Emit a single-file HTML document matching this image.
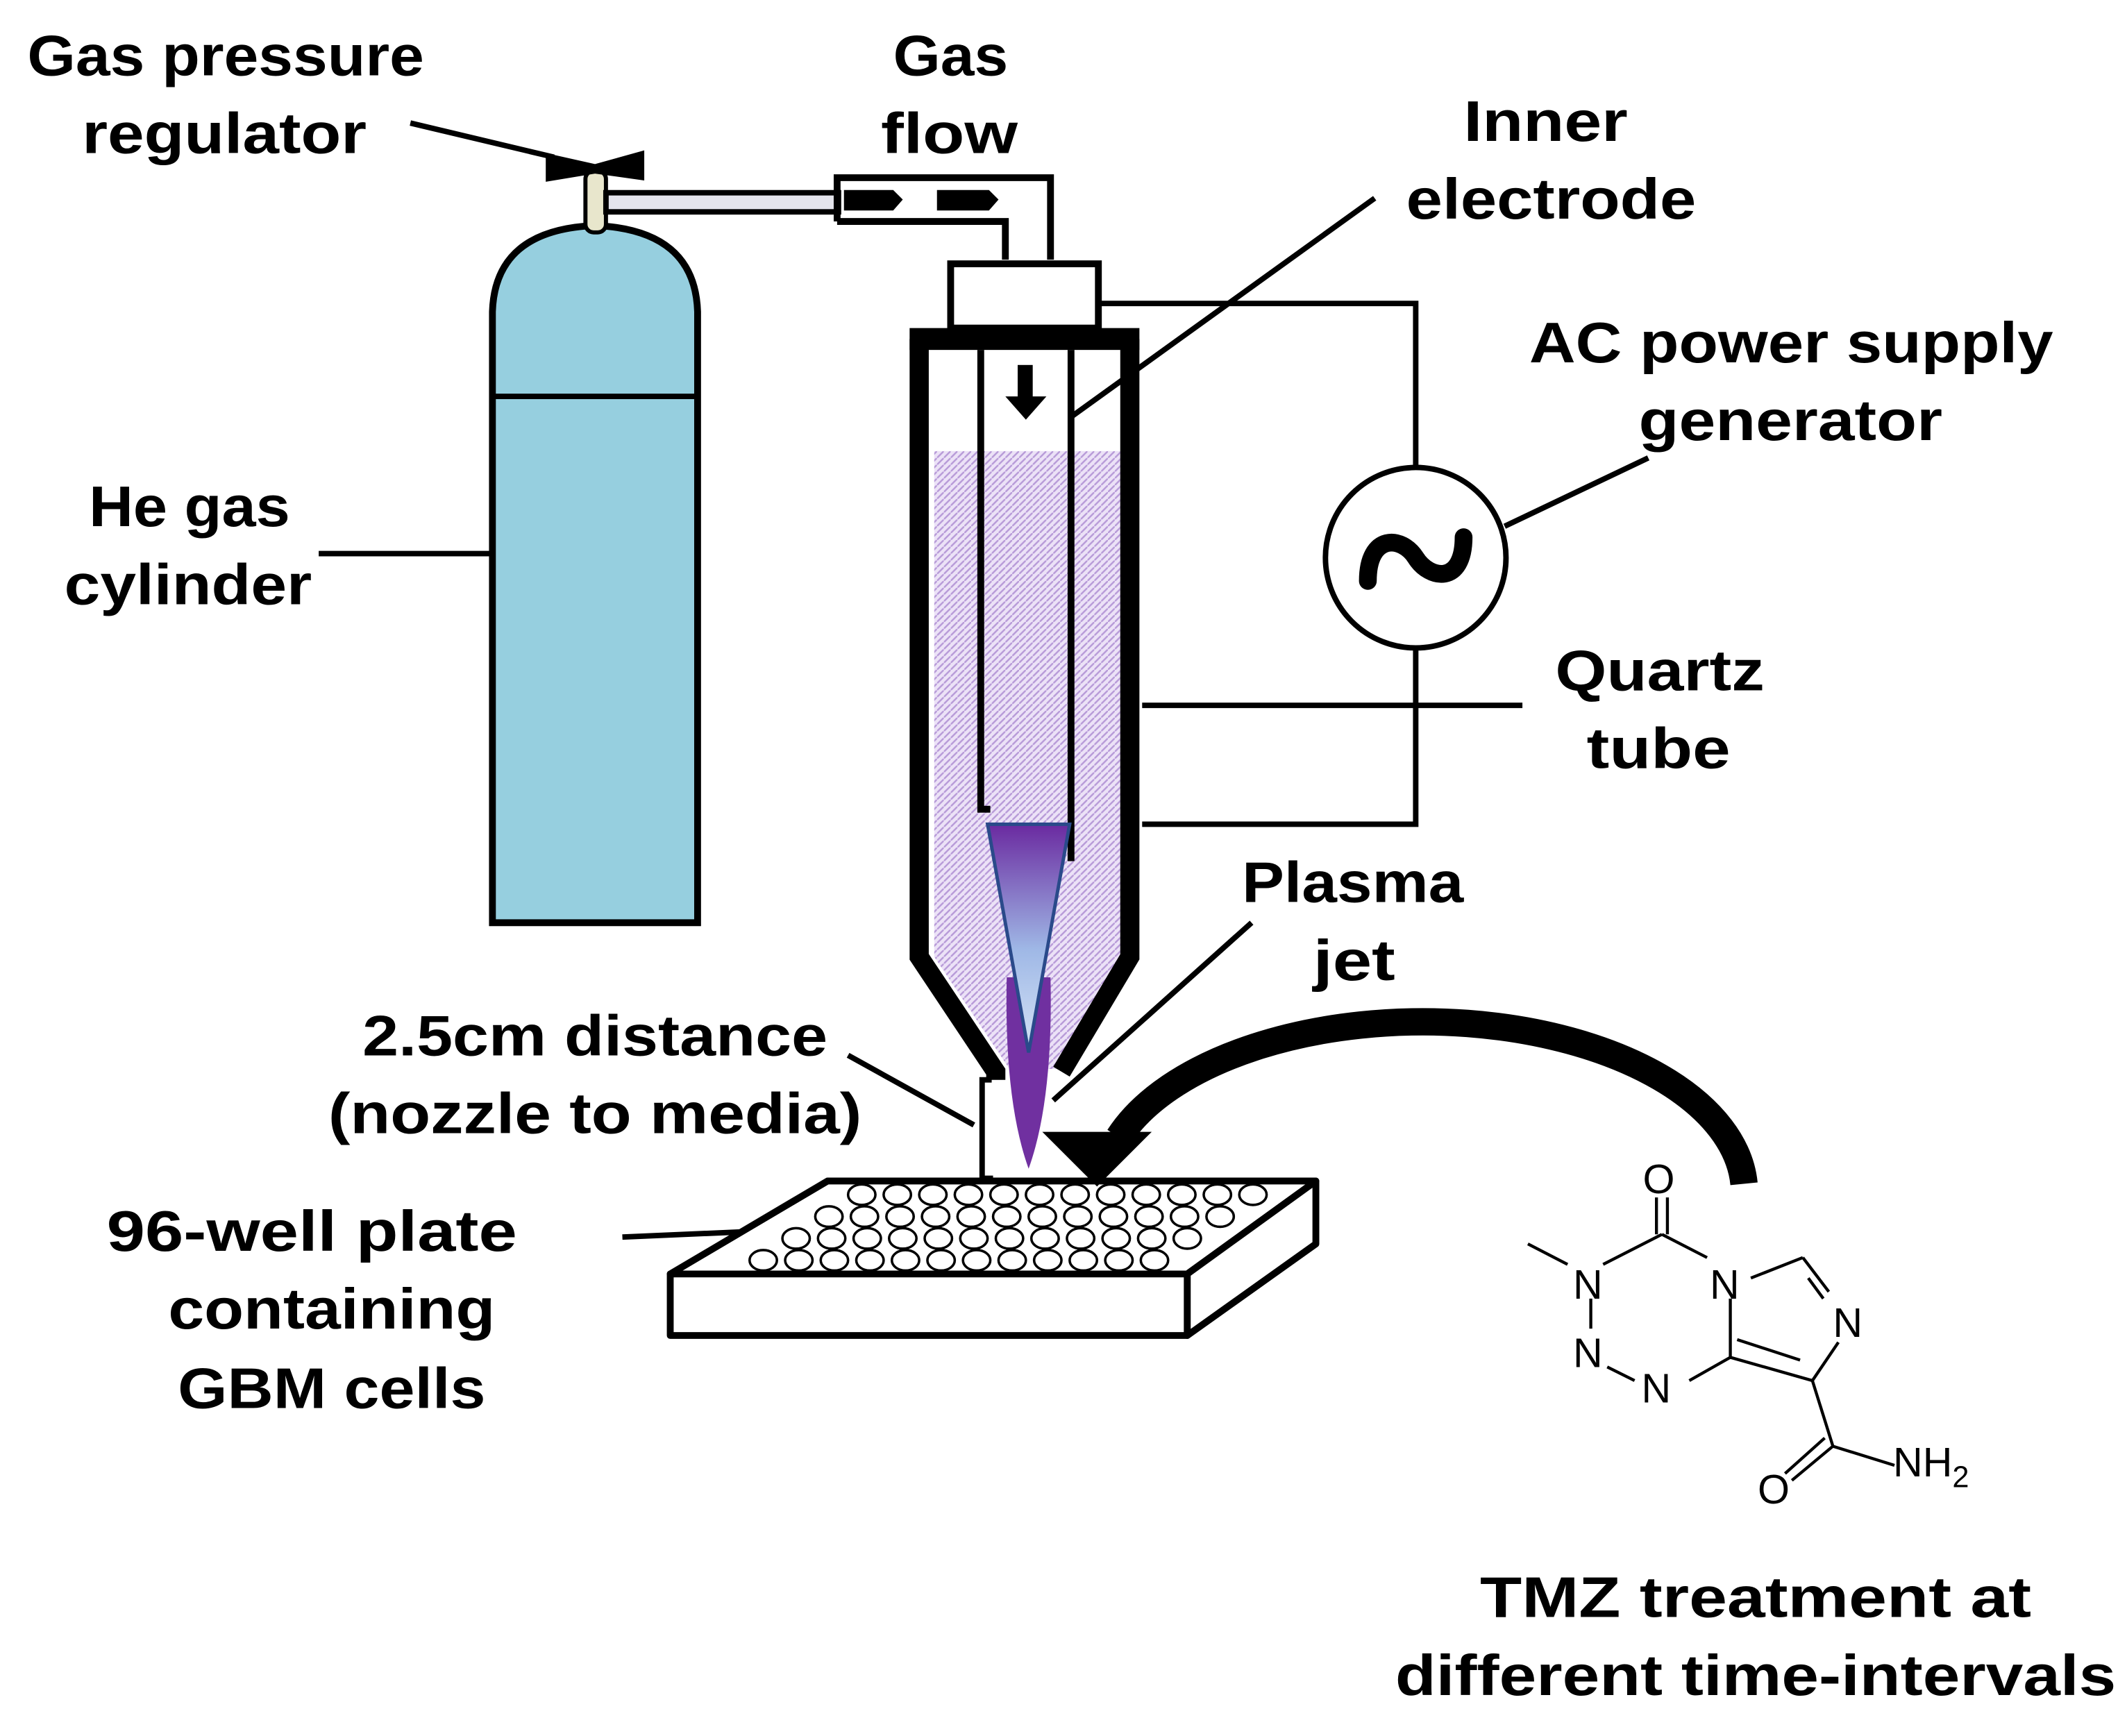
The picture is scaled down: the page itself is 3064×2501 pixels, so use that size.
<!DOCTYPE html>
<html><head><meta charset="utf-8"><style>html,body{margin:0;padding:0;background:#fff}svg{display:block}</style></head>
<body>
<svg width="3064" height="2501" viewBox="0 0 1555 1270" preserveAspectRatio="none" xmlns="http://www.w3.org/2000/svg">
<defs>
<linearGradient id="pj" x1="0" y1="0" x2="0" y2="1">
<stop offset="0" stop-color="#6a2aa0"/><stop offset="0.55" stop-color="#9fb8e6"/><stop offset="1" stop-color="#d6e4f6"/>
</linearGradient>
<pattern id="dots" width="5" height="5" patternUnits="userSpaceOnUse">
<rect width="5" height="5" fill="#ece2f7"/><path d="M0,5 L5,0" stroke="#b79ad8" stroke-width="1.2"/>
</pattern>
</defs>
<g font-family="Liberation Sans, sans-serif" font-weight="bold" font-size="42" fill="#000">
<text x="20" y="55" textLength="290" lengthAdjust="spacingAndGlyphs">Gas pressure</text>
<text x="60" y="112" textLength="208" lengthAdjust="spacingAndGlyphs">regulator</text>
<text x="653" y="55" textLength="84" lengthAdjust="spacingAndGlyphs">Gas</text>
<text x="644" y="112" textLength="100" lengthAdjust="spacingAndGlyphs">flow</text>
<text x="1070" y="103" textLength="120" lengthAdjust="spacingAndGlyphs">Inner</text>
<text x="1028" y="160" textLength="212" lengthAdjust="spacingAndGlyphs">electrode</text>
<text x="1118" y="265" textLength="383" lengthAdjust="spacingAndGlyphs">AC power supply</text>
<text x="1198" y="322" textLength="222" lengthAdjust="spacingAndGlyphs">generator</text>
<text x="65" y="385" textLength="147" lengthAdjust="spacingAndGlyphs">He gas</text>
<text x="47" y="442" textLength="181" lengthAdjust="spacingAndGlyphs">cylinder</text>
<text x="1137" y="505" textLength="153" lengthAdjust="spacingAndGlyphs">Quartz</text>
<text x="1160" y="562" textLength="105" lengthAdjust="spacingAndGlyphs">tube</text>
<text x="908" y="660" textLength="162" lengthAdjust="spacingAndGlyphs">Plasma</text>
<text x="960" y="717" textLength="60" lengthAdjust="spacingAndGlyphs">jet</text>
<text x="265" y="772" textLength="340" lengthAdjust="spacingAndGlyphs">2.5cm distance</text>
<text x="240" y="829" textLength="390" lengthAdjust="spacingAndGlyphs">(nozzle to media)</text>
<text x="78" y="915" textLength="300" lengthAdjust="spacingAndGlyphs">96-well  plate</text>
<text x="123" y="972" textLength="239" lengthAdjust="spacingAndGlyphs">containing</text>
<text x="130" y="1030" textLength="225" lengthAdjust="spacingAndGlyphs">GBM cells</text>
<text x="1082" y="1183" textLength="403" lengthAdjust="spacingAndGlyphs">TMZ treatment at</text>
<text x="1020" y="1240" textLength="527" lengthAdjust="spacingAndGlyphs">different time-intervals</text>
</g>
<g stroke="#000" stroke-width="4" fill="none">
<line x1="300" y1="90" x2="405" y2="115"/>
<line x1="233" y1="405" x2="360" y2="405"/>
<line x1="783" y1="305" x2="1005" y2="145"/>
<line x1="1100" y1="385" x2="1205" y2="335"/>
<line x1="835" y1="516" x2="1113" y2="516"/>
<line x1="915" y1="675" x2="770" y2="805"/>
<line x1="620" y1="772" x2="712" y2="823"/>
<line x1="455" y1="905" x2="570" y2="900"/>
<polyline points="803,222 1035,222 1035,342"/>
<polyline points="1035,474 1035,603 835,603"/>
<circle cx="1035" cy="408" r="66"/>
</g>
<path d="M1000,425 C1000,390 1025,392 1035,408 C1045,424 1070,428 1070,393" stroke="#000" stroke-width="13" fill="none" stroke-linecap="round"/>
<path d="M360,675 L360,228 Q362,168 435,165 Q508,168 510,228 L510,675 Z" fill="#96cfdf" stroke="#000" stroke-width="5"/>
<line x1="360" y1="290" x2="510" y2="290" stroke="#000" stroke-width="4"/>
<rect x="428" y="125" width="15" height="45" rx="6" fill="#e8e6cc" stroke="#000" stroke-width="3"/>
<polygon points="399,112 435,120 471,110 471,132 435,127 399,133" fill="#000"/>
<rect x="443" y="141" width="170" height="14" fill="#e4e4ec" stroke="#000" stroke-width="4"/>
<g stroke="#000" stroke-width="5" fill="none">
<polyline points="612,162 612,130 768,130 768,190"/>
<polyline points="612,162 735,162 735,190"/>
</g>
<polygon points="617,139 653,139 660,146 653,154 617,154" fill="#000"/>
<polygon points="685,139 723,139 730,146 723,154 685,154" fill="#000"/>
<rect x="695" y="193" width="108" height="47" fill="#fff" stroke="#000" stroke-width="5"/>
<polygon points="683,330 819,330 819,700 772,782 738,782 683,700" fill="url(#dots)"/>
<rect x="665" y="240" width="168" height="16" fill="#000"/>
<path d="M672,248 L672,700 L728,784 L728,790" stroke="#000" stroke-width="14" fill="none"/>
<path d="M826,248 L826,700 L776,784" stroke="#000" stroke-width="14" fill="none"/>
<g stroke="#000" stroke-width="5" fill="none">
<polyline points="717,256 717,592 724,592"/>
<polyline points="783,256 783,630"/>
</g>
<rect x="744" y="267" width="11" height="25" fill="#000"/>
<polygon points="735,290 765,290 750,307" fill="#000"/>
<path d="M736,715 Q734,805 752,855 Q770,805 768,715 Z" fill="#7030a0"/>
<polygon points="722,603 782,603 752,770" fill="url(#pj)" stroke="#2a4a8a" stroke-width="2.5"/>
<polyline points="725,790 718,790 718,862 726,862" stroke="#000" stroke-width="4" fill="none"/>
<g stroke="#000" stroke-width="5" fill="#fff" stroke-linejoin="round">
<polygon points="605,864 962,864 868,932 490,932"/>
<rect x="490" y="932" width="378" height="45"/>
<polygon points="868,932 962,864 962,910 868,977"/>
</g>
<g fill="none" stroke="#000" stroke-width="1.8">
<g id="r1">
<ellipse cx="630" cy="874" rx="10" ry="7.5"/><ellipse cx="656" cy="874" rx="10" ry="7.5"/><ellipse cx="682" cy="874" rx="10" ry="7.5"/><ellipse cx="708" cy="874" rx="10" ry="7.5"/><ellipse cx="734" cy="874" rx="10" ry="7.5"/><ellipse cx="760" cy="874" rx="10" ry="7.5"/><ellipse cx="786" cy="874" rx="10" ry="7.5"/><ellipse cx="812" cy="874" rx="10" ry="7.5"/><ellipse cx="838" cy="874" rx="10" ry="7.5"/><ellipse cx="864" cy="874" rx="10" ry="7.5"/><ellipse cx="890" cy="874" rx="10" ry="7.5"/><ellipse cx="916" cy="874" rx="10" ry="7.5"/>
</g>
<use href="#r1" transform="translate(-24,16)"/>
<use href="#r1" transform="translate(-48,32)"/>
<use href="#r1" transform="translate(-72,48)"/>
</g>
<path d="M1275,866 A235,125 0 0 0 818,832" stroke="#000" stroke-width="20" fill="none"/>
<polygon points="762,828 842,828 802,868" fill="#000"/>
<g stroke="#000" stroke-width="2.2" fill="none">
<line x1="1211" y1="876" x2="1211" y2="903"/><line x1="1219" y1="876" x2="1219" y2="903"/>
<line x1="1117" y1="910" x2="1146" y2="925"/>
<line x1="1172" y1="925" x2="1215" y2="903"/>
<line x1="1215" y1="903" x2="1248" y2="920"/>
<line x1="1163" y1="950" x2="1163" y2="972"/>
<line x1="1175" y1="1000" x2="1195" y2="1010"/>
<line x1="1235" y1="1010" x2="1265" y2="993"/>
<line x1="1265" y1="950" x2="1265" y2="993"/>
<line x1="1265" y1="993" x2="1325" y2="1010"/>
<line x1="1270" y1="980" x2="1316" y2="995"/>
<line x1="1325" y1="1010" x2="1344" y2="982"/>
<line x1="1280" y1="935" x2="1318" y2="920"/>
<line x1="1318" y1="920" x2="1337" y2="945"/>
<line x1="1322" y1="935" x2="1333" y2="950"/>
<line x1="1325" y1="1010" x2="1340" y2="1058"/>
<line x1="1340" y1="1058" x2="1310" y2="1083"/><line x1="1334" y1="1052" x2="1305" y2="1078"/>
<line x1="1340" y1="1058" x2="1385" y2="1072"/>
</g>
<g font-family="Liberation Sans, sans-serif" font-size="30" fill="#000">
<text x="1201" y="873">O</text>
<text x="1150" y="950">N</text>
<text x="1250" y="950">N</text>
<text x="1340" y="978">N</text>
<text x="1150" y="1000">N</text>
<text x="1200" y="1026">N</text>
<text x="1285" y="1100">O</text>
<text x="1384" y="1080">NH<tspan font-size="22" dy="8">2</tspan></text>
</g>
</svg>
</body></html>
